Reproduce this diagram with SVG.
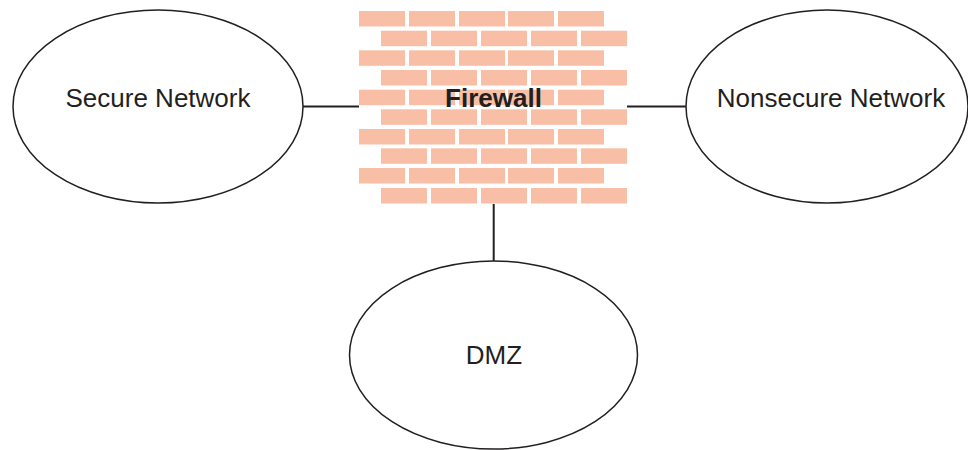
<svg xmlns="http://www.w3.org/2000/svg" width="968" height="450" viewBox="0 0 968 450">
<defs>
<style>
.node{fill:#ffffff;stroke:#231f20;stroke-width:1.5}
.lbl{font-family:"Liberation Sans",Arial,sans-serif;font-size:26px;fill:#231f20;text-anchor:middle}
.fw{font-weight:bold}
.conn{stroke:#231f20;stroke-width:2;fill:none}
.brick{fill:#f8bfa6}
</style>
<rect id="b" class="brick" width="46" height="15.5"/>
</defs>
<rect width="968" height="450" fill="#ffffff"/>
<g id="connectors">
<line class="conn" x1="303" y1="106.5" x2="359" y2="106.5"/>
<line class="conn" x1="627" y1="106.5" x2="686" y2="106.5"/>
<line class="conn" x1="493.7" y1="204" x2="493.7" y2="261"/>
</g>
<g id="secure">
<ellipse class="node" cx="158" cy="106.5" rx="145" ry="96.5"/>
<text class="lbl" x="158" y="107">Secure Network</text>
</g>
<g id="nonsecure">
<ellipse class="node" cx="827" cy="106.5" rx="141" ry="96.5"/>
<text class="lbl" x="831" y="107">Nonsecure Network</text>
</g>
<g id="dmz">
<ellipse class="node" cx="493.5" cy="355" rx="144" ry="94"/>
<text class="lbl" x="494" y="364">DMZ</text>
</g>
<g id="firewall">
<use href="#b" x="359" y="11"/><use href="#b" x="409" y="11"/><use href="#b" x="459" y="11"/><use href="#b" x="508" y="11"/><use href="#b" x="558" y="11"/>
<use href="#b" x="381" y="30.7"/><use href="#b" x="431" y="30.7"/><use href="#b" x="481" y="30.7"/><use href="#b" x="531" y="30.7"/><use href="#b" x="581" y="30.7"/>
<use href="#b" x="359" y="50.3"/><use href="#b" x="409" y="50.3"/><use href="#b" x="459" y="50.3"/><use href="#b" x="508" y="50.3"/><use href="#b" x="558" y="50.3"/>
<use href="#b" x="381" y="70"/><use href="#b" x="431" y="70"/><use href="#b" x="481" y="70"/><use href="#b" x="531" y="70"/><use href="#b" x="581" y="70"/>
<use href="#b" x="359" y="89.7"/><use href="#b" x="409" y="89.7"/><use href="#b" x="459" y="89.7"/><use href="#b" x="508" y="89.7"/><use href="#b" x="558" y="89.7"/>
<use href="#b" x="381" y="109.3"/><use href="#b" x="431" y="109.3"/><use href="#b" x="481" y="109.3"/><use href="#b" x="531" y="109.3"/><use href="#b" x="581" y="109.3"/>
<use href="#b" x="359" y="129"/><use href="#b" x="409" y="129"/><use href="#b" x="459" y="129"/><use href="#b" x="508" y="129"/><use href="#b" x="558" y="129"/>
<use href="#b" x="381" y="148.3"/><use href="#b" x="431" y="148.3"/><use href="#b" x="481" y="148.3"/><use href="#b" x="531" y="148.3"/><use href="#b" x="581" y="148.3"/>
<use href="#b" x="359" y="168"/><use href="#b" x="409" y="168"/><use href="#b" x="459" y="168"/><use href="#b" x="508" y="168"/><use href="#b" x="558" y="168"/>
<use href="#b" x="381" y="188"/><use href="#b" x="431" y="188"/><use href="#b" x="481" y="188"/><use href="#b" x="531" y="188"/><use href="#b" x="581" y="188"/>
<text class="lbl fw" x="493.5" y="107">Firewall</text>
</g>
</svg>
